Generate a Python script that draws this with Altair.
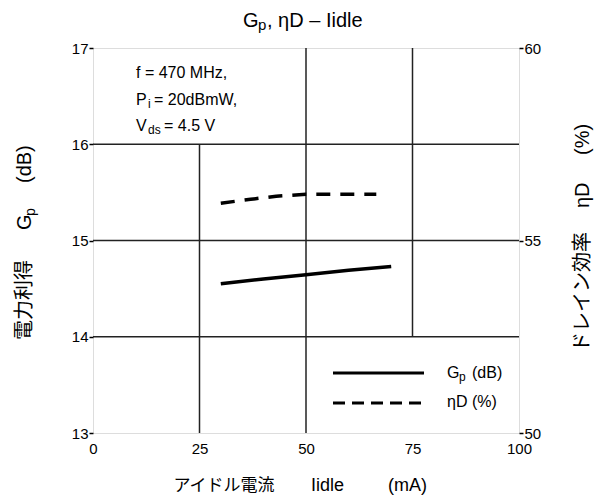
import altair as alt
import pandas as pd

# ---- data ----
gp_x = [30, 40, 50, 60, 70]
gp_db = [14.55, 14.60, 14.645, 14.69, 14.73]
eta_x = [30, 37, 43, 50, 58, 66.5]
eta_pct = [55.97, 56.07, 56.15, 56.2, 56.2, 56.2]

x_ticks = [0, 25, 50, 75, 100]
yl_ticks = [13, 14, 15, 16, 17]
yr_ticks = [50, 55, 60]

hgrid_y = [14, 15, 16]
vgrid_x = [25, 50, 75]
vgrid_lo = [13, 13, 14]
vgrid_hi = [16, 17, 17]

FONT = "Liberation Sans, Arial, Noto Sans CJK JP"
W, H = 426, 385

xscale = alt.Scale(domain=[0, 100], nice=False)
ylscale = alt.Scale(domain=[13, 17], nice=False)
yrscale = alt.Scale(domain=[50, 60], nice=False)

xaxis = alt.Axis(values=x_ticks, title=None, grid=False, domain=False, tickSize=0,
                 labelPadding=8, labelFontSize=15, labelColor="black", labelFont=FONT,
                 labelFlush=False)
ylaxis = alt.Axis(values=yl_ticks, title=None, grid=False, domain=False, tickSize=4,
                  tickColor="black", tickWidth=1.5, labelPadding=1, labelFontSize=15,
                  labelColor="black", labelFont=FONT, labelFlush=False)
yraxis = alt.Axis(values=yr_ticks, title=None, grid=False, domain=False, tickSize=4,
                  tickColor="black", tickWidth=1.5, labelPadding=1, labelFontSize=15,
                  labelColor="black", labelFont=FONT, labelFlush=False, orient="right")

hgrid = pd.DataFrame({"y": hgrid_y, "x0": [0] * 3, "x1": [100] * 3})
vgrid = pd.DataFrame({"x": vgrid_x, "y0": vgrid_lo, "y1": vgrid_hi})
gp_df = pd.DataFrame({"x": gp_x, "gp": gp_db})
eta_df = pd.DataFrame({"x": eta_x, "eta": eta_pct})

GRID_COLOR = "#222222"

h_rules = alt.Chart(hgrid).mark_rule(color=GRID_COLOR, strokeWidth=1.5).encode(
    x=alt.X("x0:Q", scale=xscale, axis=xaxis),
    x2="x1:Q",
    y=alt.Y("y:Q", scale=ylscale, axis=ylaxis),
)
v_rules = alt.Chart(vgrid).mark_rule(color=GRID_COLOR, strokeWidth=1.5).encode(
    x=alt.X("x:Q", scale=xscale, axis=xaxis),
    y=alt.Y("y0:Q", scale=ylscale, axis=ylaxis),
    y2="y1:Q",
)
gp_line = alt.Chart(gp_df).mark_line(color="black", strokeWidth=3.5).encode(
    x=alt.X("x:Q", scale=xscale, axis=xaxis),
    y=alt.Y("gp:Q", scale=ylscale, axis=ylaxis),
)
eta_line = alt.Chart(eta_df).mark_line(color="black", strokeWidth=3.5, strokeDash=[14, 10]).encode(
    x=alt.X("x:Q", scale=xscale, axis=xaxis),
    y=alt.Y("eta:Q", scale=yrscale, axis=yraxis),
)

one = alt.Data(values=[{}])


def txt(text, x, y, size=15, angle=0, align="left", baseline="middle"):
    return alt.Chart(one).mark_text(
        font=FONT, fontSize=size, color="black", align=align, baseline=baseline, angle=angle
    ).encode(x=alt.value(x), y=alt.value(y), text=alt.value(text))


texts = [
    # title
    txt("G", 150, -27, 20),
    txt("p", 165, -23, 15),
    txt(", \u03b7D \u2013 Iidle", 174, -27, 20),
    # conditions
    txt("f = 470 MHz,", 43, 25, 16),
    txt("P", 43, 52, 16),
    txt("i", 55, 56, 12),
    txt("= 20dBmW,", 61, 52, 16),
    txt("V", 43, 78, 16),
    txt("ds", 55, 82, 12),
    txt("= 4.5 V", 71, 78, 16),
    # legend
    txt("G", 354, 325, 16),
    txt("p", 366, 329, 12),
    txt("(dB)", 379, 325, 16),
    txt("\u03b7D (%)", 354, 354, 16),
    # x title
    txt("アイドル電流", 131, 438, 17, align="center"),
    txt("Iidle", 218, 438, 18),
    txt("(mA)", 295, 438, 18),
    # left title (rotated)
    txt("電力利得", -68, 292, 20, angle=270),
    txt("G", -68, 182, 20, angle=270),
    txt("p", -62, 168, 14, angle=270),
    txt("(dB)", -68, 135, 20, angle=270),
    # right title (rotated)
    txt("ドレイン効率", 490, 304, 20, angle=270),
    txt("\u03b7D", 490, 160, 20, angle=270),
    txt("(%)", 490, 107, 20, angle=270),
]

legend_solid = alt.Chart(one).mark_rule(color="black", strokeWidth=3).encode(
    x=alt.value(240), x2=alt.value(331), y=alt.value(325))
legend_dash = alt.Chart(one).mark_rule(color="black", strokeWidth=3, strokeDash=[12, 7]).encode(
    x=alt.value(240), x2=alt.value(330), y=alt.value(355))

left = alt.layer(h_rules, v_rules, gp_line, legend_solid, legend_dash, *texts)

chart = alt.layer(left, eta_line).resolve_scale(y="independent").properties(
    width=W, height=H,
    autosize=alt.AutoSizeParams(type="none"),
    padding={"left": 85, "top": 40, "right": 80, "bottom": 63},
).configure_view(stroke="black", strokeWidth=3).configure(background="white")

chart.save("out.html", embed_options={"renderer": "svg", "actions": False})
